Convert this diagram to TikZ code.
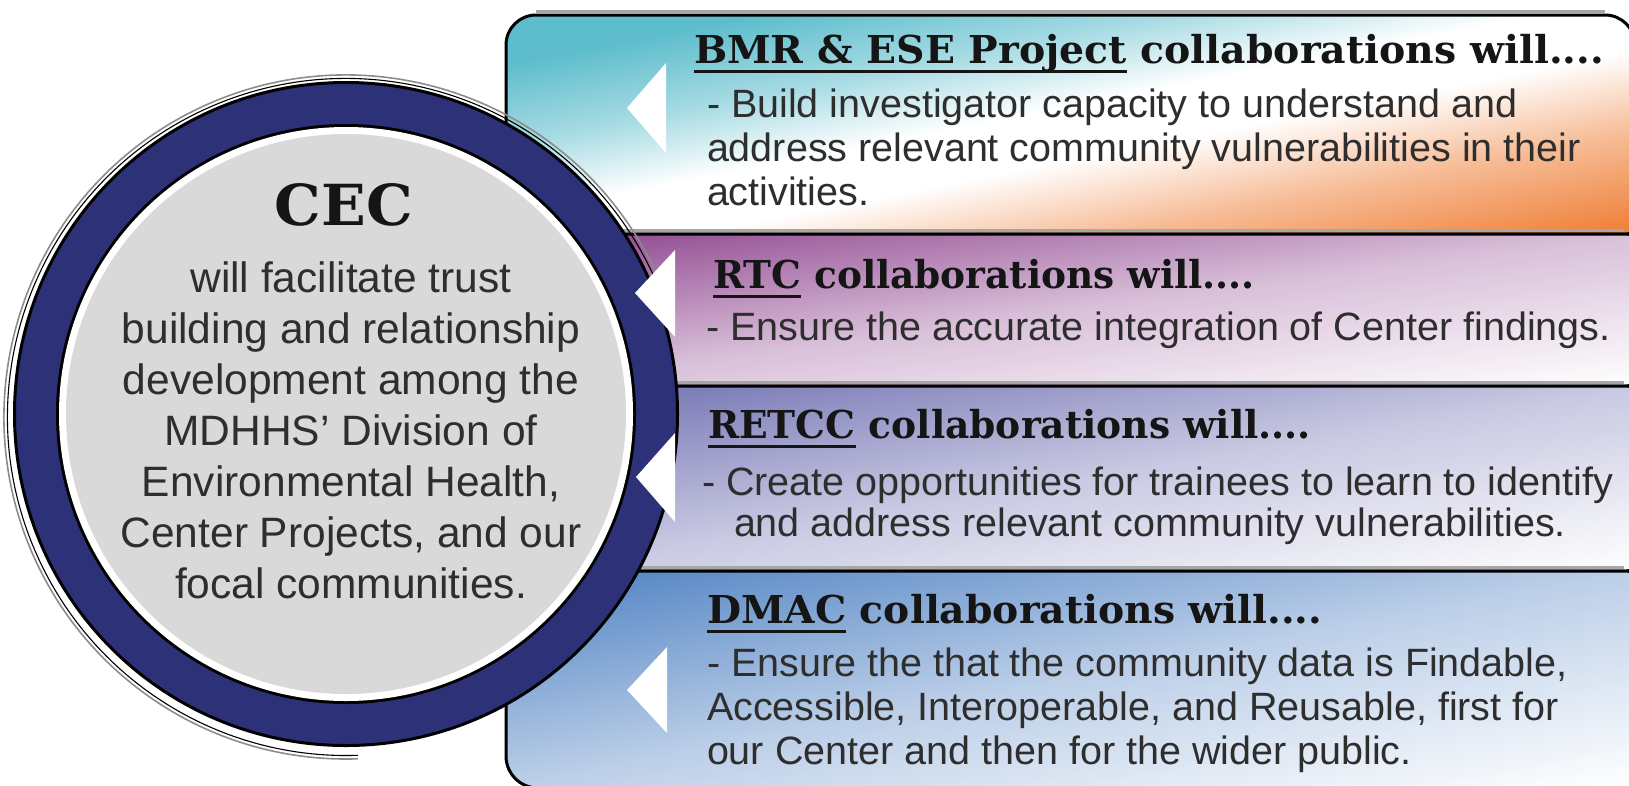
\documentclass[tikz,border=0pt]{standalone}
\usepackage{fontspec}
\setmainfont{Liberation Sans}
\newfontfamily\hdrfont{DejaVu Serif}
\usepackage{graphicx}
\definecolor{ringnavy}{HTML}{2D3278}
\definecolor{discgray}{HTML}{D9D9D9}
\definecolor{bmrteal}{HTML}{5DBDCC}
\definecolor{bmrorange}{HTML}{EE7B30}
\definecolor{rtcpurple}{HTML}{8C418C}
\definecolor{rtcmid}{HTML}{D9C0D9}
\definecolor{retccviolet}{HTML}{6D6DB0}
\definecolor{retccmid}{HTML}{C8C8E2}
\definecolor{dmacblue}{HTML}{4D80C2}
\definecolor{dmacmid}{HTML}{BCCFE8}
\definecolor{bodygray}{HTML}{2E2E2E}
\definecolor{hdrblack}{HTML}{151515}
\pgfdeclareverticalshading{bmrgrad}{100bp}{color(0bp)=(bmrorange); color(25bp)=(bmrorange);
  color(37bp)=(bmrorange!50!white); color(46bp)=(white); color(52bp)=(white);
  color(60bp)=(bmrteal!55!white); color(69bp)=(bmrteal); color(100bp)=(bmrteal)}
\newcommand\hul[1]{\setbox0=\hbox{#1}\rlap{\rule[-10pt]{\wd0}{3.5pt}}\box0\relax}
\newcommand\hdr[2]{\resizebox{#1}{29.2pt}{\hdrfont\bfseries\fontsize{38.4pt}{40pt}\selectfont #2}}
\newcommand\bodyfont{\fontsize{39.5pt}{44pt}\selectfont}
\newcommand\cl[1]{\hbox to 480pt{\hss#1\hss}}
\begin{document}
\begin{tikzpicture}[x=1pt,y=-1pt,
  txt/.style={inner sep=0pt, outer sep=0pt, anchor=base west, text=bodygray},
  hdrtxt/.style={inner sep=0pt, outer sep=0pt, anchor=base west, text=hdrblack},
  rowline/.style={draw=black, line width=3pt},
  shadowline/.style={draw=black!35, line width=2.5pt},
  notch/.style={fill=white}]
\useasboundingbox (0,0) rectangle (1629,785);

% ---- rows ----
\path[rowline, path picture={
   \begin{scope}[transform canvas={rotate around={11:(1070,124)}}]
   \shade[shading=bmrgrad] (300,-95) rectangle (1840,343);
   \end{scope}}]
  (506,234) -- (506,45) arc[start angle=180,end angle=270,radius=30]
  -- (1605,15) arc[start angle=270,end angle=360,radius=30]
  -- (1635,226) arc[start angle=0,end angle=90,radius=8] -- cycle;
\path[rowline, path picture={
   \begin{scope}[transform canvas={rotate around={7.7:(1070,310)}}]
   \shade[top color=rtcpurple, bottom color=white, middle color=rtcmid] (300,158) rectangle (1840,462);
   \end{scope}}]
  (506,234) -- (1627,234) arc[start angle=270,end angle=360,radius=8]
  -- (1635,378) arc[start angle=0,end angle=90,radius=8] -- (506,386) -- cycle;
\path[rowline, path picture={
   \begin{scope}[transform canvas={rotate around={9.3:(1070,478)}}]
   \shade[top color=retccviolet, bottom color=white, middle color=retccmid] (300,295) rectangle (1840,661);
   \end{scope}}]
  (506,386) -- (1627,386) arc[start angle=270,end angle=360,radius=8]
  -- (1635,563) arc[start angle=0,end angle=90,radius=8] -- (506,571) -- cycle;
\path[rowline, path picture={
   \begin{scope}[transform canvas={rotate around={10.8:(1070,679)}}]
   \shade[top color=dmacblue, bottom color=white, middle color=dmacmid] (300,467) rectangle (1840,891);
   \end{scope}}]
  (506,571) -- (1627,571) arc[start angle=270,end angle=360,radius=8]
  -- (1635,788) -- (538,788) arc[start angle=90,end angle=180,radius=32] -- cycle;
\draw[shadowline] (536,11.5) -- (1605,11.5);
\draw[shadowline] (506,230.5) -- (1624,230.5);
\draw[shadowline] (506,382.5) -- (1624,382.5);
\draw[shadowline] (506,567.5) -- (1624,567.5);

% ---- circle ----
\coordinate (cc) at (346,414);
\coordinate (rc) at (346,417);
\draw[black!45, line width=1.6pt] (rc) ++(-25:342) arc[start angle=-25,end angle=-272,radius=342];
\draw[black, line width=1.1pt] (rc) ++(-25:338.5) arc[start angle=-25,end angle=-272,radius=338.5];
\fill[ringnavy, draw=black, line width=3pt] (cc) circle[radius=331.5];
\fill[black] (cc) circle[radius=290];
\fill[white] (cc) circle[radius=287];
\fill[discgray] (cc) circle[radius=280];

% ---- notches ----
\fill[notch] (666,63) -- (627,108) -- (666,153) -- cycle;
\fill[notch] (675,250) -- (635,293) -- (675,337) -- cycle;
\fill[notch] (675,433) -- (636,477) -- (675,522) -- cycle;
\fill[notch] (667,647) -- (627,690) -- (667,733) -- cycle;

% ---- circle text ----
\node[hdrtxt, anchor=base] (cec) at (344,225) {\resizebox{138pt}{42pt}{\hdrfont\bfseries CEC}};
\node[txt, anchor=base] (cectext) at (351,292) {\fontsize{42.5pt}{51pt}\selectfont\vtop{\lineskiplimit=-\maxdimen
  \cl{will facilitate trust}
  \cl{building and relationship}
  \cl{development among the}
  \cl{MDHHS’ Division of}
  \cl{Environmental Health,}
  \cl{Center Projects, and our}
  \cl{focal communities.}}};

% ---- row texts ----
\node[hdrtxt] (bmrhead) at (694,63) {\hdr{910pt}{\hul{BMR \& ESE Project} collaborations will....}};
\node[txt] (bmrbody) at (707,117) {\bodyfont\vtop{\lineskiplimit=-\maxdimen
  \hbox{- Build investigator capacity to understand and}
  \hbox{address relevant community vulnerabilities in their}
  \hbox{activities.}}};

\node[hdrtxt] (rtchead) at (713,288) {\hdr{542pt}{\hul{RTC} collaborations will....}};
\node[txt] (rtcbody) at (706,340) {\bodyfont - Ensure the accurate integration of Center findings.};

\node[hdrtxt] (retcchead) at (708,438) {\hdr{603pt}{\hul{RETCC} collaborations will....}};
\node[txt] (retccbody) at (702,495) {\bodyfont\vtop{\baselineskip=41pt\lineskiplimit=-\maxdimen
  \hbox{- Create opportunities for trainees to learn to identify}
  \hbox{\kern32pt and address relevant community vulnerabilities.}}};

\node[hdrtxt] (dmachead) at (707,623) {\hdr{615pt}{\hul{DMAC} collaborations will....}};
\node[txt] (dmacbody) at (707,676) {\bodyfont\vtop{\lineskiplimit=-\maxdimen
  \hbox{- Ensure the that the community data is Findable,}
  \hbox{Accessible, Interoperable, and Reusable, first for}
  \hbox{our Center and then for the wider public.}}};
\end{tikzpicture}
\end{document}
